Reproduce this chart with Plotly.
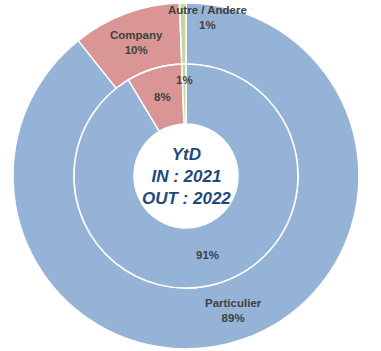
import math
import plotly.graph_objects as go

categories = ["Particulier", "Company", "Autre / Andere"]
outer_values = [89.3, 10.1, 0.6]   # OUT : 2022
inner_values = [91.4, 8.0, 0.6]    # IN : 2021
outer_labels = ["Particulier<br>89%", "Company<br>10%", "Autre / Andere<br>1%"]
inner_labels = ["91%", "8%", "1%"]
center_text = "YtD<br>IN : 2021<br>OUT : 2022"

colors = ["#95B3D7", "#D99694", "#C3D69B"]
W, H = 381, 351
CX, CY = 186, 176          # pixel centre (top-down)
R_OUT, R_MID, R_IN = 173, 112, 52

def dom(r):
    return dict(x=[(CX - r) / W, (CX + r) / W], y=[(H - CY - r) / H, (H - CY + r) / H])

fig = go.Figure()
fig.add_trace(go.Pie(
    labels=categories, values=outer_values, hole=R_MID / R_OUT, sort=False,
    direction="clockwise", rotation=0, domain=dom(R_OUT),
    marker=dict(colors=colors, line=dict(color="white", width=1.5)),
    textinfo="none", hoverinfo="label+percent", showlegend=False))
fig.add_trace(go.Pie(
    labels=categories, values=inner_values, hole=R_IN / R_MID, sort=False,
    direction="clockwise", rotation=0, domain=dom(R_MID),
    marker=dict(colors=colors, line=dict(color="white", width=1.5)),
    textinfo="none", hoverinfo="label+percent", showlegend=False))

font = dict(family="Liberation Sans, Arial", size=11.5, color="#404040")

def add_labels(values, labels, r, shifts):
    tot = sum(values)
    cum = 0
    for v, lab, (dx, dy) in zip(values, labels, shifts):
        mid = (cum + v / 2) / tot * 2 * math.pi
        cum += v
        px = CX + r * math.sin(mid) + dx
        py = CY - r * math.cos(mid) + dy
        fig.add_annotation(x=px / W, y=1 - py / H, xref="paper", yref="paper",
                           text="<b>" + lab + "</b>", showarrow=False, font=font,
                           align="center", xanchor="center", yanchor="middle")

add_labels(outer_values, outer_labels, (R_OUT + R_MID) / 2,
           [(0, 0), (0, 0), (24, -16)])
add_labels(inner_values, inner_labels, (R_MID + R_IN) / 2,
           [(0, 0), (0, 0), (0, -14)])

fig.add_annotation(x=CX / W, y=1 - CY / H, xref="paper", yref="paper",
                   text="<b><i>" + center_text + "</i></b>", showarrow=False,
                   font=dict(family="Liberation Sans, Arial", size=17, color="#1F497D"),
                   align="center", xanchor="center", yanchor="middle")

fig.update_layout(width=W, height=H, margin=dict(l=0, r=0, t=0, b=0),
                  paper_bgcolor="white", plot_bgcolor="white")
fig.write_html("out.html")
